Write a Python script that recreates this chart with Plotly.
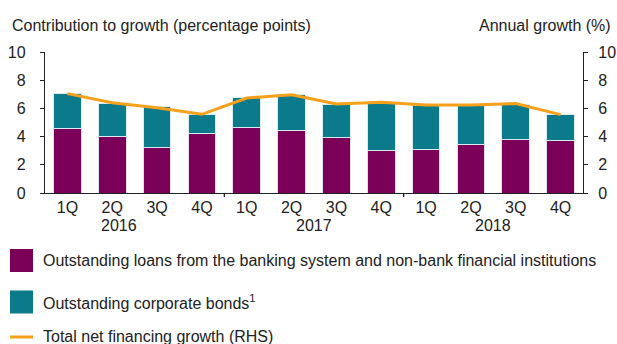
import plotly.graph_objects as go

quarters = ["1Q", "2Q", "3Q", "4Q", "1Q", "2Q", "3Q", "4Q", "1Q", "2Q", "3Q", "4Q"]
years = ["2016", "2017", "2018"]
loans = [4.61, 4.02, 3.24, 4.23, 4.66, 4.40, 3.95, 3.03, 3.12, 3.45, 3.83, 3.69]
totals = [7.04, 6.38, 6.10, 5.56, 6.74, 6.97, 6.31, 6.34, 6.24, 6.24, 6.31, 5.58]
bonds = [round(t - l, 2) for t, l in zip(totals, loans)]
growth = [7.05, 6.40, 6.05, 5.58, 6.74, 6.97, 6.31, 6.43, 6.24, 6.24, 6.34, 5.56]
yticks = [0, 2, 4, 6, 8, 10]

PURPLE = "#7A0058"
TEAL = "#0B7B8B"
ORANGE = "#F6A01C"
TXT = "#222222"
FONT = "Liberation Sans, Arial, sans-serif"
FS = 16

L, R, T, B = 45, 34, 52, 151
W = 617 - L - R
H = 344 - T - B

def px(pix):
    return (pix - L) / W

def py(pix):
    return (344 - B - pix) / H

x = list(range(len(quarters)))

fig = go.Figure()
fig.add_trace(go.Bar(x=x, y=loans, marker=dict(color=PURPLE, line=dict(color="#e9dcef", width=1)),
                     width=0.62, name="Outstanding loans from the banking system and non-bank financial institutions"))
fig.add_trace(go.Bar(x=x, y=bonds, marker=dict(color=TEAL, line=dict(color="#d8ecf2", width=1)),
                     width=0.62, name="Outstanding corporate bonds¹"))
fig.add_trace(go.Scatter(x=x, y=growth, mode="lines", line=dict(color=ORANGE, width=3),
                         yaxis="y2", name="Total net financing growth (RHS)"))

fig.update_layout(
    width=617, height=344,
    margin=dict(l=L, r=R, t=T, b=B, autoexpand=False),
    barmode="stack",
    showlegend=False,
    plot_bgcolor="white", paper_bgcolor="white",
    font=dict(family=FONT, size=FS, color=TXT),
    xaxis=dict(
        range=[-0.5, 11.5], tickmode="array", tickvals=x, ticktext=quarters,
        ticks="", showline=True, linecolor="#222", linewidth=1.3, showgrid=False,
        zeroline=False, tickfont=dict(size=FS, color=TXT), automargin=False,
    ),
    yaxis=dict(
        range=[0, 10], tickvals=yticks, showline=True, linecolor="#222", linewidth=1.3,
        ticks="outside", ticklen=4, tickcolor="#222", showgrid=False, zeroline=False,
        tickfont=dict(size=FS, color=TXT), ticklabelstandoff=11, automargin=False,
    ),
    yaxis2=dict(
        range=[0, 10], tickvals=yticks, overlaying="y", side="right", showline=True,
        linecolor="#222", linewidth=1.3, ticks="outside", ticklen=4, tickcolor="#222",
        showgrid=False, zeroline=False, tickfont=dict(size=FS, color=TXT), ticklabelstandoff=7,
        automargin=False,
    ),
)

# year separators on the x axis
for b in [3.5, 7.5]:
    fig.add_shape(type="line", xref="x", yref="paper", x0=b, x1=b, y0=0, y1=py(197),
                  line=dict(color="#222", width=1.3))

# year labels
for pos, yr in zip([1.15, 5.5, 9.5], years):
    fig.add_annotation(x=pos, xref="x", y=py(225.5), yref="paper", text=yr, showarrow=False,
                       yanchor="middle", font=dict(size=FS, color=TXT))

fig.add_annotation(x=px(10), xref="paper", y=py(25), yref="paper",
                   text="Contribution to growth (percentage points)",
                   showarrow=False, xanchor="left", yanchor="middle", font=dict(size=FS, color=TXT))
fig.add_annotation(x=px(613), xref="paper", y=py(25), yref="paper",
                   text="Annual growth (%)", showarrow=False, xanchor="right", yanchor="middle",
                   font=dict(size=FS, color=TXT))

legend_items = [
    ("box", PURPLE, 260.5, "Outstanding loans from the banking system and non-bank financial institutions"),
    ("box", TEAL, 302, "Outstanding corporate bonds<sup>1</sup>"),
    ("line", ORANGE, 337, "Total net financing growth (RHS)"),
]
for kind, col, yc, label in legend_items:
    if kind == "box":
        fig.add_shape(type="rect", xref="paper", yref="paper", x0=px(10), x1=px(33),
                      y0=py(yc - 11.5), y1=py(yc + 11.5), fillcolor=col, line=dict(width=0))
    else:
        fig.add_shape(type="line", xref="paper", yref="paper", x0=px(10), x1=px(33),
                      y0=py(yc), y1=py(yc), line=dict(color=col, width=3))
    fig.add_annotation(x=px(41), xref="paper", y=py(yc), yref="paper", text=label, showarrow=False,
                       xanchor="left", yanchor="middle", font=dict(size=FS, color=TXT))

fig.write_html("out.html")
